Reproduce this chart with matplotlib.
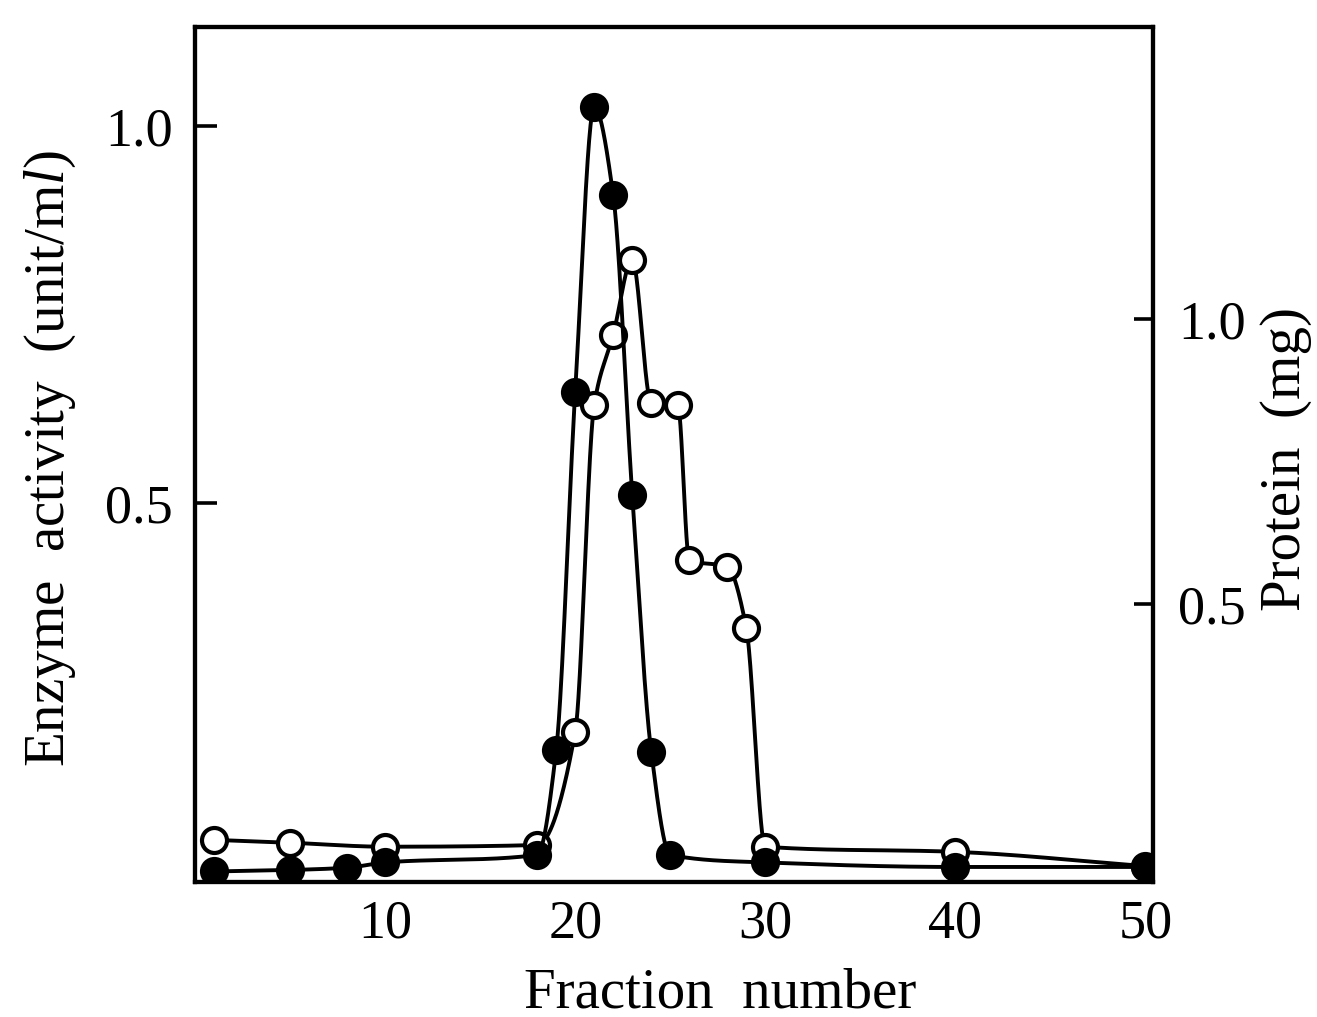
"""Gel filtration elution profile: enzyme activity and protein per fraction.

Filled circles are enzyme activity (left axis, unit/ml), open circles are
protein (right axis, mg). Values are read off the scanned figure.
"""

import matplotlib

matplotlib.use("Agg")
import matplotlib.pyplot as plt
import numpy as np

# enzyme activity (unit/ml), filled circles
ACTIVITY_FRACTION = [1, 5, 8, 10, 18, 19, 20, 21, 22, 23, 24, 25, 30, 40, 50]
ACTIVITY = [0.011, 0.013, 0.016, 0.023, 0.033, 0.172, 0.647, 1.025, 0.908,
            0.511, 0.170, 0.033, 0.023, 0.017, 0.017]

# protein (mg), open circles
PROTEIN_FRACTION = [1, 5, 10, 18, 20, 21, 22, 23, 24, 25.4, 26, 28, 29, 30,
                    40, 50]
PROTEIN = [0.086, 0.081, 0.074, 0.077, 0.275, 0.849, 0.972, 1.104, 0.853,
           0.849, 0.577, 0.565, 0.458, 0.074, 0.065, 0.040]

X_TICKS = [10, 20, 30, 40, 50]
ACTIVITY_TICKS = [0.5, 1.0]
PROTEIN_TICKS = [0.5, 1.0]

SERIF = ["Liberation Serif", "DejaVu Serif"]


def _pchip(x, y, xs):
    """Monotone cubic through the points, used only to draw the smooth line."""
    x = np.asarray(x, float)
    y = np.asarray(y, float)
    h = np.diff(x)
    delta = np.diff(y) / h
    d = np.zeros_like(y)
    for k in range(1, len(x) - 1):
        if delta[k - 1] * delta[k] > 0:
            w1 = 2 * h[k] + h[k - 1]
            w2 = h[k] + 2 * h[k - 1]
            d[k] = (w1 + w2) / (w1 / delta[k - 1] + w2 / delta[k])
    d[0], d[-1] = delta[0], delta[-1]
    idx = np.clip(np.searchsorted(x, xs) - 1, 0, len(h) - 1)
    t = (xs - x[idx]) / h[idx]
    h00 = 2 * t**3 - 3 * t**2 + 1
    h10 = t**3 - 2 * t**2 + t
    h01 = -2 * t**3 + 3 * t**2
    h11 = t**3 - t**2
    return (h00 * y[idx] + h10 * h[idx] * d[idx]
            + h01 * y[idx + 1] + h11 * h[idx] * d[idx + 1])


def _curve(ax, xs, ys, filled):
    xx = np.linspace(xs[0], xs[-1], 2000)
    ax.plot(xx, _pchip(xs, ys, xx), color="black", linewidth=2.8, zorder=2)
    ax.plot(xs, ys, linestyle="none", marker="o", markersize=18,
            markeredgewidth=3.0, markeredgecolor="black",
            markerfacecolor="black" if filled else "white", zorder=3)


def main() -> None:
    plt.rcParams["font.family"] = SERIF
    plt.rcParams["mathtext.fontset"] = "custom"
    plt.rcParams["mathtext.rm"] = "Liberation Serif"
    plt.rcParams["mathtext.it"] = "Liberation Serif:italic"

    fig = plt.figure(figsize=(13.17, 10.17), dpi=100)
    ax = fig.add_axes([0.1481, 0.1327, 0.7274, 0.8407])
    ax2 = ax.twinx()
    # enzyme curve sits above the protein curve
    ax.set_zorder(ax2.get_zorder() + 1)
    ax.patch.set_visible(False)

    _curve(ax2, PROTEIN_FRACTION, PROTEIN, filled=False)
    _curve(ax, ACTIVITY_FRACTION, ACTIVITY, filled=True)

    ax.set_xlim(0, 50.4)
    ax.set_ylim(-0.003, 1.131)
    ax2.set_ylim(0.012, 1.512)

    ax.set_xticks(X_TICKS)
    ax.set_yticks(ACTIVITY_TICKS)
    ax.set_yticklabels([f"{v:.1f}" for v in ACTIVITY_TICKS])
    ax2.set_yticks(PROTEIN_TICKS)
    ax2.set_yticklabels([f"{v:.1f}" for v in PROTEIN_TICKS])

    ax.tick_params(axis="x", length=0, pad=12, labelsize=39)
    ax.tick_params(axis="y", direction="in", length=16, width=2.6, pad=16,
                   labelsize=39)
    ax2.tick_params(axis="y", direction="in", length=14, width=2.6, pad=18,
                    labelsize=39)
    for a in (ax, ax2):
        for spine in a.spines.values():
            spine.set_linewidth(3.0)

    ax.set_xlabel("Fraction  number", fontsize=41)
    ax.xaxis.set_label_coords(0.548, -0.100)
    ax.set_ylabel(r"Enzyme  activity  (unit/m$\mathit{l}$)", fontsize=41)
    ax.yaxis.set_label_coords(-0.122, 0.495)
    ax2.set_ylabel("Protein  (mg)", fontsize=41, rotation=90)
    ax2.yaxis.set_label_coords(1.112, 0.495)

    fig.savefig("out.png", dpi=100)
    plt.close(fig)


if __name__ == "__main__":
    main()
